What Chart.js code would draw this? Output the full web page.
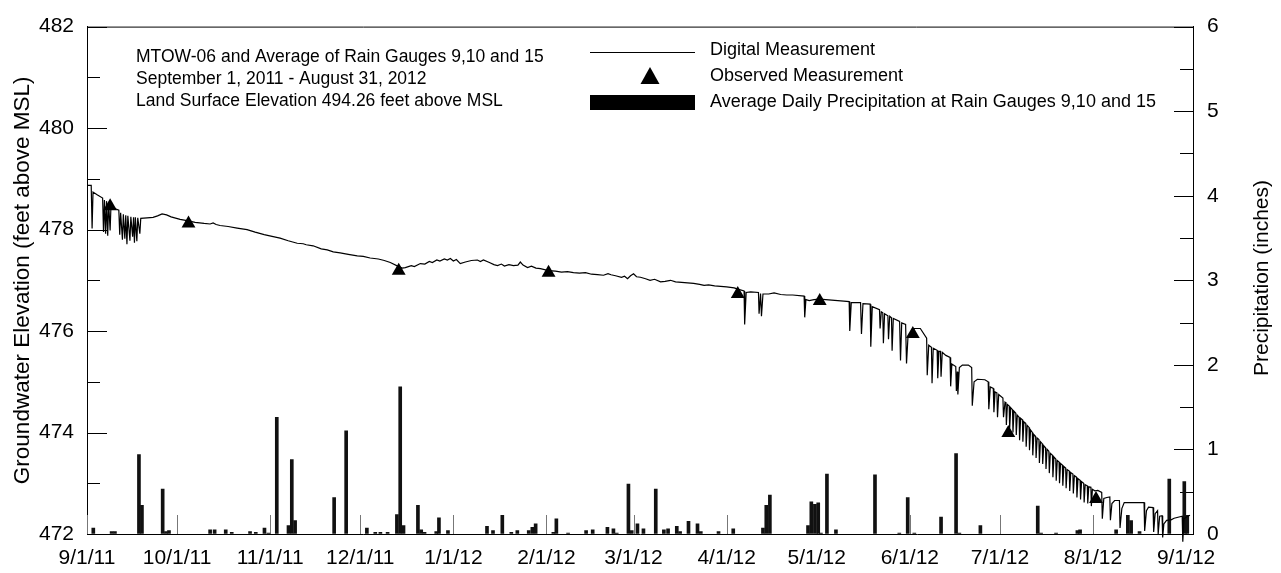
<!DOCTYPE html>
<html>
<head>
<meta charset="utf-8">
<title>MTOW-06 Groundwater Elevation and Precipitation</title>
<script src="https://cdn.jsdelivr.net/npm/chart.js@4.4.1/dist/chart.umd.min.js"></script>
<style>
  html, body { margin: 0; padding: 0; background: #fff; overflow: hidden; }
</style>
</head>
<body>
<canvas id="chart" width="1281" height="573"></canvas>
<script>
// x values are days since 9/1/11
const monthDays = [0, 30, 61, 91, 122, 153, 182, 213, 243, 274, 304, 335, 366];
const monthLabels = ['9/1/11', '10/1/11', '11/1/11', '12/1/11', '1/1/12', '2/1/12', '3/1/12',
                     '4/1/12', '5/1/12', '6/1/12', '7/1/12', '8/1/12', '9/1/12'];

// transducer record [day, feet above MSL]
const digitalReadings = [
  [0, 478.87], [1.4, 478.87], [1.7, 478.02], [2.0, 478.74], [3.5, 478.68], [5.2, 478.62],
  [5.5, 477.95], [5.8, 478.58], [6.2, 477.92], [6.5, 478.56], [6.9, 477.88], [7.2, 478.54],
  [7.7, 477.98], [8.0, 478.5], [9.0, 478.42], [10.6, 478.38],
  [10.9, 477.9], [11.2, 478.33], [11.8, 477.8], [12.1, 478.3], [12.6, 477.82], [12.9, 478.28],
  [13.3, 477.71], [13.6, 478.27], [14.3, 477.78], [14.6, 478.25], [15.2, 477.86], [15.5, 478.24],
  [15.8, 477.74], [16.1, 478.24], [16.6, 477.77], [16.9, 478.23], [17.6, 477.92], [17.9, 478.22],
  [20, 478.23], [22, 478.24], [23.5, 478.27], [25, 478.31], [26.5, 478.29], [28, 478.25],
  [31, 478.2], [33.8, 478.17], [36, 478.14], [39, 478.12], [41, 478.11], [42, 478.13],
  [43, 478.1], [44.3, 478.08], [47, 478.06], [50, 478.03], [53.3, 478.0], [56, 477.95],
  [59, 477.9], [62, 477.86], [64.3, 477.83], [67, 477.78], [70, 477.73], [72, 477.72],
  [73, 477.7], [75.3, 477.68], [78, 477.62], [80, 477.6], [82, 477.56], [84.3, 477.54],
  [87, 477.51], [90, 477.48], [92, 477.47], [94.3, 477.44], [97, 477.42], [99, 477.39],
  [101, 477.35], [103.8, 477.27], [105, 477.24], [106, 477.25], [108, 477.29], [109, 477.27],
  [111, 477.33], [112.5, 477.32], [114, 477.37], [115, 477.35], [116.5, 477.40], [117.5, 477.38],
  [119, 477.42], [120, 477.40], [121, 477.43], [122, 477.38], [123, 477.41], [124.3, 477.33],
  [126, 477.36], [128, 477.39], [130, 477.40], [131, 477.37], [132, 477.40], [134, 477.35],
  [135.5, 477.31], [136.7, 477.29], [138, 477.32], [139, 477.28], [140.5, 477.31], [142, 477.29],
  [143.5, 477.30], [144.3, 477.36], [145.2, 477.30], [146.7, 477.25], [148, 477.28], [149.5, 477.24],
  [151, 477.23], [153.7, 477.19], [156, 477.18], [158, 477.16], [160, 477.17], [162, 477.15],
  [164, 477.14], [166, 477.15], [168, 477.12], [170, 477.11], [172, 477.10], [173.5, 477.13],
  [174.5, 477.11], [176, 477.09], [178, 477.06], [179, 477.08], [180, 477.03], [181, 477.09],
  [182, 477.13], [183, 477.07], [184.3, 477.06], [186, 477.03], [187.5, 477.0], [189, 477.02],
  [191, 476.97], [192.5, 476.98], [194.3, 477.0], [196, 476.97], [198, 476.96], [200, 476.95],
  [202, 476.94], [204, 476.92], [205.5, 476.9], [207, 476.91], [209, 476.89], [211, 476.88],
  [213, 476.87], [215.5, 476.85], [217, 476.82], [218.8, 476.79], [219, 476.13], [219.5, 476.76],
  [221, 476.77], [223.6, 476.76], [223.8, 476.34], [224.3, 476.74], [224.6, 476.29], [225.1, 476.73],
  [227, 476.73], [228.8, 476.75], [231, 476.72], [233, 476.71], [235, 476.71], [238.8, 476.69],
  [239, 476.27], [239.4, 476.62], [240.5, 476.6], [242.1, 476.62], [244, 476.63], [246, 476.62],
  [248, 476.61], [250, 476.6], [252, 476.59], [253.8, 476.58], [254, 476.0], [254.5, 476.56],
  [257.6, 476.56], [257.9, 475.94], [258.4, 476.54], [260.8, 476.53], [261, 475.69], [261.5, 476.48],
  [263.9, 476.42], [264.1, 476.05], [264.5, 476.38], [265.0, 476.36], [265.2, 475.76], [265.6, 476.34],
  [266.7, 476.3], [266.9, 475.84], [267.3, 476.29], [267.9, 476.26], [268.1, 475.61], [268.5, 476.25],
  [270.6, 476.19], [270.9, 475.42], [271.3, 476.16], [272.6, 476.13], [272.9, 475.36], [273.4, 475.9],
  [274.5, 475.98], [275.5, 476.05], [277.5, 476.05], [279.6, 475.86], [279.8, 475.13], [280.3, 475.72],
  [281.2, 475.68], [281.4, 474.97], [281.8, 475.66], [283.1, 475.62], [283.3, 475.07], [283.7, 475.6],
  [284.2, 475.6], [284.4, 475.1], [284.8, 475.58], [286, 475.52], [287.4, 475.48], [287.6, 474.91],
  [288, 475.35], [289.3, 475.3], [289.5, 474.82], [289.8, 475.2], [290.0, 474.75], [290.5, 475.28],
  [291.5, 475.33], [293.5, 475.33], [294.6, 475.28], [294.8, 474.53], [295.4, 475.0], [296.5, 475.05],
  [299, 475.04], [300.1, 475.0], [300.3, 474.46], [300.8, 474.9], [301.8, 474.87], [302.0, 474.4],
  [302.4, 474.8], [303.0, 474.78], [303.2, 474.3], [303.6, 474.75], [305.0, 474.68], [305.2, 474.3],
  [305.7, 474.6],
  [306.0, 474.58], [306.15, 474.15], [306.5, 474.55], [307.1, 474.52], [307.25, 474.08], [307.6, 474.49],
  [308.2, 474.45], [308.35, 474.0], [308.7, 474.42], [309.3, 474.38], [309.45, 473.95], [309.8, 474.34],
  [310.4, 474.3], [310.55, 473.85], [310.9, 474.28], [311.5, 474.25], [311.65, 473.82], [312.0, 474.21],
  [312.6, 474.18], [312.75, 473.72], [313.1, 474.14], [313.7, 474.1], [313.85, 473.65], [314.2, 474.05],
  [314.8, 474.0], [314.95, 473.55], [315.3, 473.96], [315.9, 473.92], [316.05, 473.5], [316.4, 473.89],
  [317.0, 473.86], [317.15, 473.4], [317.5, 473.82], [318.1, 473.78], [318.25, 473.38], [318.6, 473.74],
  [319.2, 473.7], [319.35, 473.28], [319.7, 473.67], [320.3, 473.63], [320.45, 473.2], [320.8, 473.59],
  [321.5, 473.55], [321.65, 473.12], [322.0, 473.52], [322.6, 473.48], [322.75, 473.05], [323.1, 473.45],
  [323.7, 473.42], [323.85, 473.0], [324.2, 473.39], [324.8, 473.36], [324.95, 472.95], [325.3, 473.33],
  [325.9, 473.3], [326.05, 472.9], [326.4, 473.27], [327.1, 473.24], [327.25, 472.85], [327.6, 473.21],
  [328.3, 473.18], [328.45, 472.8], [328.8, 473.15], [329.5, 473.12], [329.65, 472.72], [330.0, 473.09],
  [330.7, 473.06], [330.85, 472.68], [331.2, 473.03], [331.9, 473.0], [332.05, 472.62], [332.4, 472.97],
  [333.1, 472.95], [333.25, 472.6], [333.6, 472.93], [334.3, 472.92], [334.45, 472.55], [334.8, 472.88],
  [335.6, 472.85],
  [336.6, 472.86], [337.9, 472.82], [338.1, 472.3], [338.6, 472.7], [339.6, 472.72], [340.6, 472.73],
  [340.8, 472.27], [341.3, 472.6], [342.2, 472.66], [343.8, 472.66], [344.0, 472.12], [344.6, 472.5],
  [345.4, 472.62], [352.0, 472.62], [352.2, 472.06], [352.8, 472.46], [353.5, 472.53], [355.0, 472.52],
  [355.2, 472.04], [355.7, 472.4], [356.5, 472.46], [356.7, 472.0], [357.2, 472.35], [358.0, 472.36],
  [358.2, 471.93], [358.6, 472.2], [359.5, 472.27], [361.0, 472.28], [362.0, 472.31], [364.0, 472.34],
  [364.7, 472.35], [364.9, 471.85], [365.3, 472.3], [366.5, 472.35], [367.3, 472.37]
];

// hand measurements
const observedDays = [7.7, 33.8, 103.8, 153.7, 216.7, 244, 275, 306.8, 336];
const observedLevels = [478.46, 478.12, 477.19, 477.15, 476.73, 476.59, 475.94, 473.99, 472.69];

// average daily precipitation, gauges 9, 10 and 15
const rainDays = [2.1, 8.2, 9.3, 17.3, 18.3, 25.2, 26.3, 27.3, 41, 42.5, 46.2, 48.2, 54.3, 56.2,
  59.1, 60.4, 63.2, 67.1, 68.2, 69.3, 82.3, 86.3, 93.2, 96, 97.7, 100.1, 103.2, 104.3, 105.4,
  110.2, 111.3, 112.4, 116.3, 117.2, 120.2, 133.2, 135.2, 138.3, 141.3, 143.3, 147.1, 148.3,
  149.4, 155.3, 156.3, 160.2, 166.2, 168.4, 173.3, 175.3, 176.4, 180.3, 181.4, 183.3, 185.3,
  189.4, 192.1, 193.5, 196.4, 197.5, 200.3, 203.3, 204.4, 210.3, 215.2, 225.1, 226.2, 227.4,
  240.1, 241.2, 242.4, 243.5, 244.4, 246.4, 249.4, 262.4, 270.5, 273.3, 275.5, 284.4, 289.4,
  290.5, 297.5, 316.6, 317.7, 322.7, 329.8, 330.7, 342.7, 346.6, 347.7, 350.5, 360.4, 365.4, 366.4];
const rainInches = [0.07, 0.03, 0.03, 0.94, 0.34, 0.53, 0.03, 0.04, 0.05, 0.05, 0.05, 0.02, 0.03, 0.02,
  0.07, 0.01, 1.38, 0.1, 0.88, 0.16, 0.43, 1.22, 0.07, 0.02, 0.02, 0.02, 0.23, 1.74, 0.1,
  0.34, 0.05, 0.02, 0.03, 0.19, 0.04, 0.09, 0.04, 0.22, 0.02, 0.04, 0.04, 0.08,
  0.12, 0.02, 0.18, 0.01, 0.04, 0.05, 0.08, 0.06, 0.01, 0.59, 0.04, 0.12, 0.06,
  0.53, 0.05, 0.06, 0.09, 0.03, 0.15, 0.12, 0.03, 0.03, 0.06, 0.07, 0.34, 0.46,
  0.1, 0.38, 0.35, 0.37, 0.01, 0.71, 0.05, 0.70, 0.01, 0.43, 0.01, 0.2, 0.95,
  0.01, 0.1, 0.33, 0.01, 0.01, 0.04, 0.05, 0.05, 0.22, 0.16, 0.03, 0.65, 0.62, 0.22];

const noteLines = [
  'MTOW-06 and Average of Rain Gauges 9,10 and 15',
  'September 1, 2011 - August 31, 2012',
  'Land Surface Elevation 494.26 feet above MSL'
];

const FONT = 'Liberation Sans, Arial, Helvetica, sans-serif';
Chart.defaults.color = '#000';
Chart.defaults.font.family = FONT;

function seg(ctx, x1, y1, x2, y2) {
  ctx.beginPath();
  ctx.moveTo(x1, y1);
  ctx.lineTo(x2, y2);
  ctx.stroke();
}

// inward tick marks, top frame line, legend, notes and right axis title
const framePlugin = {
  id: 'framePlugin',
  beforeDatasetsDraw(chart) {
    const {ctx, chartArea: a, scales} = chart;
    ctx.save();
    ctx.lineWidth = 1;
    ctx.strokeStyle = '#000';
    seg(ctx, a.left, a.top + 0.5, a.right, a.top + 0.5);

    const yl = scales.y;
    for (let v = yl.min; v <= yl.max; v += 1) {
      const py = Math.round(yl.getPixelForValue(v)) + 0.5;
      seg(ctx, a.left, py, a.left + ((v - yl.min) % 2 === 0 ? 20 : 13), py);
    }
    const yr = scales.y2;
    for (let v = yr.min; v <= yr.max; v += 0.5) {
      const py = Math.round(yr.getPixelForValue(v)) + 0.5;
      seg(ctx, a.right, py, a.right - (v % 1 === 0 ? 19 : 13), py);
    }
    ctx.strokeStyle = '#777';
    monthDays.forEach(d => {
      const px = Math.round(scales.x.getPixelForValue(d)) + 0.5;
      seg(ctx, px, a.bottom, px, a.bottom - 19);
    });
    ctx.restore();
  },
  afterDraw(chart) {
    const {ctx} = chart;
    ctx.save();
    ctx.fillStyle = '#000';
    ctx.textBaseline = 'middle';

    ctx.font = '17.5px ' + FONT;
    noteLines.forEach((t, i) => ctx.fillText(t, 136, 57 + i * 22));

    // legend symbols
    ctx.strokeStyle = '#000';
    ctx.lineWidth = 1;
    seg(ctx, 590, 52.5, 695, 52.5);
    ctx.beginPath();
    ctx.moveTo(650, 67);
    ctx.lineTo(659.5, 84);
    ctx.lineTo(640.5, 84);
    ctx.closePath();
    ctx.fill();
    ctx.fillRect(590, 95, 105, 15);

    ctx.font = '18px ' + FONT;
    ctx.fillText('Digital Measurement', 710, 50);
    ctx.fillText('Observed Measurement', 710, 76);
    ctx.fillText('Average Daily Precipitation at Rain Gauges 9,10 and 15', 710, 102);

    // right axis title reads bottom to top
    ctx.font = '21px ' + FONT;
    ctx.textAlign = 'center';
    ctx.translate(1262, 278);
    ctx.rotate(-Math.PI / 2);
    ctx.fillText('Precipitation (inches)', 0, 0);
    ctx.restore();
  }
};

new Chart(document.getElementById('chart'), {
  type: 'line',
  data: {
    datasets: [
      {
        label: 'Observed Measurement',
        data: observedDays.map((d, i) => ({x: d, y: observedLevels[i]})),
        yAxisID: 'y',
        showLine: false,
        pointStyle: 'triangle',
        pointRadius: 8,
        backgroundColor: '#000',
        borderColor: '#000',
        borderWidth: 0,
        order: 0
      },
      {
        label: 'Digital Measurement',
        data: digitalReadings.map(p => ({x: p[0], y: p[1]})),
        yAxisID: 'y',
        borderColor: '#000',
        borderWidth: 1.2,
        pointRadius: 0,
        tension: 0,
        clip: {left: 0, top: 0, right: 0, bottom: 8},
        order: 1
      },
      {
        type: 'bar',
        label: 'Average Daily Precipitation at Rain Gauges 9,10 and 15',
        data: rainDays.map((d, i) => ({x: d, y: rainInches[i]})),
        yAxisID: 'y2',
        backgroundColor: '#111',
        borderWidth: 0,
        barThickness: 3,
        order: 2
      }
    ]
  },
  options: {
    responsive: false,
    animation: false,
    devicePixelRatio: 1,
    layout: {padding: {top: 16, left: 0, right: 0, bottom: 0}},
    plugins: {legend: {display: false}, tooltip: {enabled: false}},
    scales: {
      x: {
        type: 'linear',
        min: 0,
        max: 368.3,
        offset: false,
        grid: {drawOnChartArea: false, drawTicks: false},
        border: {display: true, color: '#000', width: 1},
        afterBuildTicks: s => { s.ticks = monthDays.map(v => ({value: v})); },
        afterFit: s => { s.height = 39; },
        ticks: {
          autoSkip: false,
          maxRotation: 0,
          padding: 12,
          font: {size: 21},
          callback: (v, i) => monthLabels[i]
        }
      },
      y: {
        position: 'left',
        min: 472,
        max: 482,
        grid: {drawOnChartArea: false, drawTicks: false},
        border: {display: true, color: '#000', width: 1},
        afterFit: s => { s.width = 87; },
        ticks: {stepSize: 2, padding: 13, font: {size: 21}},
        title: {
          display: true,
          text: 'Groundwater Elevation (feet above MSL)',
          font: {size: 22.5},
          padding: {top: 9}
        }
      },
      y2: {
        position: 'right',
        min: 0,
        max: 6,
        grid: {drawOnChartArea: false, drawTicks: false},
        border: {display: true, color: '#000', width: 1},
        afterFit: s => { s.width = 88; },
        ticks: {stepSize: 1, padding: 14, font: {size: 21}}
      }
    }
  },
  plugins: [framePlugin]
});
</script>
</body>
</html>
